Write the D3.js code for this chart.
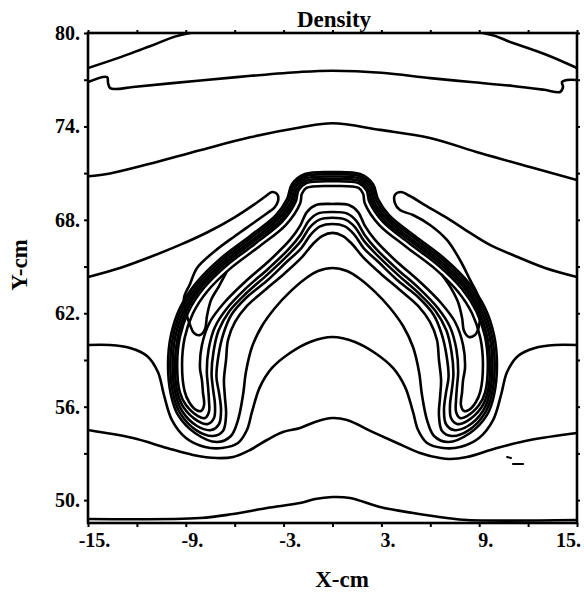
<!DOCTYPE html>
<html>
<head>
<meta charset="utf-8">
<script src="https://cdn.jsdelivr.net/npm/d3@7"></script>
<style>
  body { margin: 0; background: #fff; }
  text { font-family: "Liberation Serif", serif; font-weight: bold; fill: #000; }
</style>
</head>
<body>
<div id="chart"></div>
<script>
// axis ticks and labels
const xTicks = [-15, -12, -9, -6, -3, 0, 3, 6, 9, 12, 15];
const yTicks = [50, 53, 56, 59, 62, 65, 68, 71, 74, 77, 80];
const xLabels = [-15, -9, -3, 3, 9, 15];
const yLabels = [80, 74, 68, 62, 56, 50];

// open contour lines, [x cm, y cm]
const topCorners = [[-15,77.75],[-13.0,78.45],[-11.2,79.15],[-8.74,80],[9.23,80],[11.07,79.36],[13.16,78.59],[15,77.75]];
const upperWave = [[-15,76.85],[-13.83,77.17],[-13.77,76.79],[-13.65,76.47],[-13.34,76.40],[-12.24,76.53],[-8.1,76.95],[-5,77.25],[-2,77.5],[0,77.58],[3,77.45],[6,77.1],[8.5,76.85],[11.07,76.6],[13.0,76.35],[13.96,76.21],[14.14,76.53],[14.08,76.85],[14.39,76.98],[15,76.98]];
const middleWave = [[-15,70.8],[-13.65,70.98],[-11.2,71.6],[-8.13,72.47],[-5.06,73.3],[-2,73.93],[0,74.2],[2.91,73.78],[5.98,73.26],[9.05,72.29],[12.12,71.39],[15,70.56]];
const leftTongue = [[-15,64.33],[-13.04,64.91],[-11.2,65.61],[-9.36,66.39],[-7.64,67.22],[-5.98,68.18],[-4.76,69.02],[-4.08,69.53],[-3.71,69.79],[-3.4,69.66],[-3.34,69.21],[-3.59,68.76],[-4.08,68.38],[-4.94,67.73],[-5.98,66.96],[-7.21,66.0],[-8.31,64.91],[-8.74,63.88],[-9.11,62.98],[-8.99,62.08],[-8.74,61.25],[-8.5,60.73],[-8.13,60.6],[-7.82,60.99],[-7.7,61.83],[-7.45,62.85],[-6.96,63.75],[-6.53,64.59]];
const rightTongue = [[15,64.33],[13.04,64.91],[11.2,65.68],[9.66,66.39],[8.44,67.16],[7.02,68.12],[5.67,68.95],[4.75,69.53],[4.2,69.79],[3.83,69.6],[3.83,69.08],[4.14,68.63],[4.94,68.31],[5.98,67.67],[7.02,66.71],[7.82,65.42],[8.44,64.14],[8.93,63.11],[9.05,62.08],[8.99,61.18],[8.74,60.6],[8.37,60.48],[8.07,60.86],[7.95,61.7],[7.7,62.72],[7.27,63.62],[6.72,64.46]];
const level60 = [[-15,59.96],[-13.65,59.96],[-12.42,59.77],[-11.38,59.26],[-10.71,58.23],[-10.34,56.75],[-9.85,55.14],[-8.99,53.99],[-7.82,53.41],[-6.78,53.35],[-5.8,53.67],[-5.25,54.5],[-4.94,55.66],[-4.45,57.27],[-3.71,58.49],[-2.61,59.45],[-1.38,60.16],[0,60.48],[1.38,60.16],[2.61,59.45],[3.71,58.49],[4.45,57.27],[4.94,55.66],[5.25,54.5],[5.8,53.67],[6.78,53.35],[7.82,53.41],[8.99,53.99],[9.85,55.14],[10.34,56.75],[10.71,58.23],[11.38,59.26],[12.42,59.77],[13.65,59.96],[15,59.96]];
const level56 = [[-15,54.5],[-14.26,54.37],[-12.24,53.99],[-10.15,53.35],[-8.56,52.9],[-7.09,52.7],[-6.1,52.77],[-5.06,53.22],[-4.02,53.86],[-3.04,54.37],[-1.99,54.63],[-1.07,55.02],[0,55.27],[0.89,55.14],[2.48,54.37],[3.96,53.67],[5.37,53.03],[6.6,52.7],[7.21,52.64],[8.25,52.77],[10.09,53.35],[12.12,53.86],[15,54.31]];
const bottomWave = [[-15,48.79],[-8.13,48.85],[-6.1,49.11],[-4.02,49.49],[-1.99,49.81],[-1.07,50.07],[0,50.2],[1.07,50.14],[2.91,49.56],[4.94,49.17],[7.02,48.85],[8.25,48.72],[15,48.72]];
const specks = [[[10.71,52.77],[10.95,52.7]], [[11.07,52.32],[11.69,52.32]]];

// closed shells of the arch, outermost first
const shell1 = [[0,71.07],[-1.69,70.94],[-2.48,70.3],[-2.79,69.34],[-3.47,68.31],[-5.06,66.96],[-6.9,65.49],[-8.37,63.94],[-9.36,62.34],[-9.91,60.6],[-10.09,58.68],[-9.91,56.75],[-9.48,55.47],[-8.44,54.31],[-7.09,53.73],[-6.23,54.12],[-5.8,55.14],[-5.49,56.75],[-5.31,58.23],[-4.94,59.83],[-4.33,61.18],[-3.53,62.34],[-2.61,63.37],[-1.69,64.2],[-0.89,64.71],[0,64.91],
  [0.89,64.71],[1.69,64.2],[2.61,63.37],[3.53,62.34],[4.33,61.18],[4.94,59.83],[5.31,58.23],[5.49,56.75],[5.8,55.14],[6.23,54.12],[7.09,53.73],[8.44,54.31],[9.48,55.47],[9.91,56.75],[10.09,58.68],[9.91,60.6],[9.36,62.34],[8.37,63.94],[6.9,65.49],[5.06,66.96],[3.47,68.31],[2.79,69.34],[2.48,70.3],[1.69,70.94]];
const shell2 = [[0,70.93],[-1.67,70.8],[-2.39,70.2],[-2.66,69.29],[-3.37,68.21],[-4.98,66.85],[-6.81,65.38],[-8.26,63.85],[-9.23,62.28],[-9.77,60.57],[-9.95,58.68],[-9.77,56.79],[-9.36,55.6],[-8.37,54.5],[-7.33,54.12],[-6.72,54.44],[-6.53,55.47],[-6.6,56.62],[-6.66,57.71],[-6.53,59.0],[-6.41,60.28],[-5.98,61.44],[-5.25,62.47],[-4.14,63.49],[-2.91,64.59],[-1.87,65.61],[-1.2,66.45],[-0.64,66.96],[0,67.16],
  [0.64,66.96],[1.2,66.45],[1.87,65.61],[2.91,64.59],[4.14,63.49],[5.25,62.47],[5.98,61.44],[6.41,60.28],[6.53,59.0],[6.66,57.71],[6.6,56.62],[6.53,55.47],[6.72,54.44],[7.33,54.12],[8.37,54.5],[9.36,55.6],[9.77,56.79],[9.95,58.68],[9.77,60.57],[9.23,62.28],[8.26,63.85],[6.81,65.38],[4.98,66.85],[3.37,68.21],[2.66,69.29],[2.39,70.2],[1.67,70.8]];
const shell3 = [[0,70.78],[-1.66,70.65],[-2.29,70.1],[-2.52,69.25],[-3.27,68.11],[-4.88,66.73],[-6.71,65.27],[-8.15,63.76],[-9.09,62.23],[-9.63,60.55],[-9.81,58.68],[-9.63,56.82],[-9.23,55.72],[-8.31,54.76],[-7.45,54.5],[-6.96,54.89],[-6.84,55.79],[-6.96,56.88],[-7.12,57.91],[-6.99,59.32],[-6.7,60.66],[-6.21,61.89],[-5.28,63.01],[-4.06,64.05],[-2.82,65.29],[-1.91,66.19],[-1.31,67.09],[-0.76,67.58],[0,67.73],
  [0.76,67.58],[1.31,67.09],[1.91,66.19],[2.82,65.29],[4.06,64.05],[5.28,63.01],[6.21,61.89],[6.7,60.66],[6.99,59.32],[7.12,57.91],[6.96,56.88],[6.84,55.79],[6.96,54.89],[7.45,54.5],[8.31,54.76],[9.23,55.72],[9.63,56.82],[9.81,58.68],[9.63,60.55],[9.09,62.23],[8.15,63.76],[6.71,65.27],[4.88,66.73],[3.27,68.11],[2.52,69.25],[2.29,70.1],[1.66,70.65]];
const shell4 = [[0,70.63],[-1.64,70.5],[-2.19,69.99],[-2.39,69.2],[-3.17,68.0],[-4.8,66.62],[-6.62,65.16],[-8.04,63.68],[-8.96,62.17],[-9.49,60.51],[-9.67,58.68],[-9.5,56.86],[-9.11,55.92],[-8.25,55.08],[-7.64,54.89],[-7.27,55.27],[-7.21,56.11],[-7.33,57.14],[-7.42,58.11],[-7.3,59.53],[-6.99,60.89],[-6.33,62.13],[-5.31,63.27],[-3.98,64.5],[-2.75,65.72],[-1.93,66.65],[-1.39,67.52],[-0.83,68.0],[0,68.13],
  [0.83,68.0],[1.39,67.52],[1.93,66.65],[2.75,65.72],[3.98,64.5],[5.31,63.27],[6.33,62.13],[6.99,60.89],[7.3,59.53],[7.42,58.11],[7.33,57.14],[7.21,56.11],[7.27,55.27],[7.64,54.89],[8.25,55.08],[9.11,55.92],[9.5,56.86],[9.67,58.68],[9.49,60.51],[8.96,62.17],[8.04,63.68],[6.62,65.16],[4.8,66.62],[3.17,68.0],[2.39,69.2],[2.19,69.99],[1.64,70.5]];
const shell5 = [[0,70.48],[-1.63,70.35],[-2.09,69.89],[-2.26,69.16],[-3.07,67.9],[-4.71,66.5],[-6.52,65.05],[-7.92,63.59],[-8.83,62.12],[-9.36,60.49],[-9.53,58.68],[-9.36,56.9],[-8.99,56.11],[-8.25,55.4],[-7.82,55.27],[-7.58,55.66],[-7.58,56.43],[-7.64,57.33],[-7.71,58.27],[-7.6,59.69],[-7.21,61.12],[-6.47,62.32],[-5.33,63.58],[-3.92,64.88],[-2.69,66.12],[-1.96,67.05],[-1.46,67.93],[-0.91,68.4],[0,68.5],
  [0.91,68.4],[1.46,67.93],[1.96,67.05],[2.69,66.12],[3.92,64.88],[5.33,63.58],[6.47,62.32],[7.21,61.12],[7.6,59.69],[7.71,58.27],[7.64,57.33],[7.58,56.43],[7.58,55.66],[7.82,55.27],[8.25,55.4],[8.99,56.11],[9.36,56.9],[9.53,58.68],[9.36,60.49],[8.83,62.12],[7.92,63.59],[6.52,65.05],[4.71,66.5],[3.07,67.9],[2.26,69.16],[2.09,69.89],[1.63,70.35]];
const shell6 = [[0,70.17],[-1.6,70.05],[-1.88,69.67],[-1.98,69.07],[-2.86,67.68],[-4.53,66.26],[-6.33,64.82],[-7.69,63.4],[-8.56,62.0],[-9.07,60.42],[-9.23,58.68],[-9.07,56.98],[-8.8,56.3],[-8.37,55.79],[-8.07,55.72],[-7.88,56.11],[-7.95,56.94],[-8.01,57.71],[-8.13,58.49],[-8.01,59.96],[-7.52,61.44],[-6.66,62.66],[-5.37,64.01],[-3.83,65.42],[-2.61,66.71],[-1.99,67.61],[-1.57,68.5],[-1.01,68.95],[0,69.02],
  [1.01,68.95],[1.57,68.5],[1.99,67.61],[2.61,66.71],[3.83,65.42],[5.37,64.01],[6.66,62.66],[7.52,61.44],[8.01,59.96],[8.13,58.49],[8.01,57.71],[7.95,56.94],[7.88,56.11],[8.07,55.72],[8.37,55.79],[8.8,56.3],[9.07,56.98],[9.23,58.68],[9.07,60.42],[8.56,62.0],[7.69,63.4],[6.33,64.82],[4.53,66.26],[2.86,67.68],[1.98,69.07],[1.88,69.67],[1.6,70.05]];

const W = 584, H = 596;
const margin = {top: 33, right: 7, bottom: 73, left: 88};

const svg = d3.select("#chart").append("svg")
    .attr("width", W)
    .attr("height", H);

const x = d3.scaleLinear().domain([-15, 15]).range([margin.left, W - margin.right]);
const y = d3.scaleLinear().domain([48.53, 80]).range([H - margin.bottom, margin.top]);

svg.append("clipPath").attr("id", "plot")
  .append("rect")
    .attr("x", margin.left).attr("y", margin.top)
    .attr("width", W - margin.left - margin.right)
    .attr("height", H - margin.top - margin.bottom);

const openLine = d3.line()
    .x(d => x(d[0]))
    .y(d => y(d[1]))
    .curve(d3.curveCatmullRom.alpha(0.5));
const closedLine = d3.line()
    .x(d => x(d[0]))
    .y(d => y(d[1]))
    .curve(d3.curveCatmullRomClosed.alpha(0.5));

let g = svg.append("g")
    .attr("clip-path", "url(#plot)")
    .attr("fill", "none")
    .attr("stroke", "#000")
    .attr("stroke-width", 2.6)
    .attr("stroke-linejoin", "round")
    .attr("stroke-linecap", "round");

g.selectAll("path.shell")
    .data([shell1, shell2, shell3, shell4, shell5, shell6])
    .enter().append("path")
    .attr("class", "shell")
    .attr("d", closedLine);

g.selectAll("path.level")
    .data([topCorners, upperWave, middleWave, leftTongue, rightTongue, level60, level56, bottomWave])
    .enter().append("path")
    .attr("class", "level")
    .attr("d", openLine);

g.selectAll("path.speck")
    .data(specks)
    .enter().append("path")
    .attr("class", "speck")
    .attr("stroke-width", 2)
    .attr("d", openLine);

// frame
svg.append("rect")
    .attr("x", margin.left).attr("y", margin.top)
    .attr("width", W - margin.left - margin.right)
    .attr("height", H - margin.top - margin.bottom)
    .attr("fill", "none")
    .attr("stroke", "#000")
    .attr("stroke-width", 2.6);

// axes
const xAxis = svg.append("g")
    .attr("transform", `translate(0,${H - margin.bottom})`)
    .call(d3.axisBottom(x).tickValues(xTicks).tickSize(4).tickSizeOuter(0).tickPadding(6)
        .tickFormat(d => xLabels.includes(d) ? `${d}.` : ""));
const yAxis = svg.append("g")
    .attr("transform", `translate(${margin.left},0)`)
    .call(d3.axisLeft(y).tickValues(yTicks).tickSize(4).tickSizeOuter(0).tickPadding(4)
        .tickFormat(d => yLabels.includes(d) ? `${d}.` : ""));
svg.append("g")
    .attr("transform", `translate(0,${margin.top})`)
    .call(d3.axisTop(x).tickValues(xTicks).tickSize(3).tickSizeOuter(0).tickFormat(""));
svg.append("g")
    .attr("transform", `translate(${W - margin.right},0)`)
    .call(d3.axisRight(y).tickValues(yTicks).tickSize(3).tickSizeOuter(0).tickFormat(""));

svg.selectAll(".domain").remove();
svg.selectAll(".tick line").attr("stroke", "#000").attr("stroke-width", 2);
svg.selectAll(".tick text")
    .attr("fill", "#000")
    .style("font-family", '"Liberation Serif", serif')
    .style("font-weight", "bold")
    .style("font-size", "20px");
xAxis.selectAll(".tick text").attr("dx", d => d === 15 ? -9 : 6);

// titles
svg.append("text")
    .attr("x", 334).attr("y", 27)
    .attr("text-anchor", "middle")
    .style("font-size", "23px")
    .text("Density");
svg.append("text")
    .attr("x", 342).attr("y", 587)
    .attr("text-anchor", "middle")
    .style("font-size", "23px")
    .text("X-cm");
svg.append("text")
    .attr("transform", "translate(27,265) rotate(-90)")
    .attr("text-anchor", "middle")
    .style("font-size", "23px")
    .text("Y-cm");
</script>
</body>
</html>
